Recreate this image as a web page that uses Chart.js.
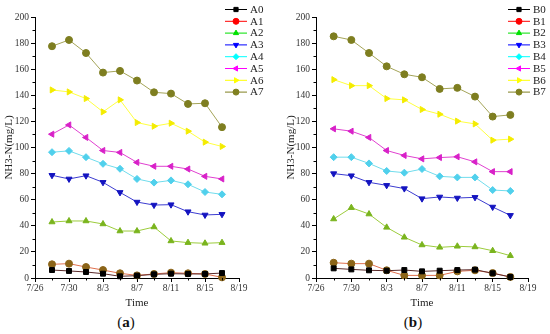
<!DOCTYPE html>
<html>
<head>
<meta charset="utf-8">
<script src="https://cdn.jsdelivr.net/npm/chart.js@4/dist/chart.umd.min.js"></script>
<style>
body{margin:0;background:#fff;width:550px;height:334px;position:relative;overflow:hidden;font-family:"Liberation Serif",serif}
.panel{position:absolute;top:0;width:275px;height:310px}
.cap{position:absolute;top:313px;font-size:15px;color:#111;transform:translateX(-50%);line-height:18px}
</style>
</head>
<body>
<div class="panel" style="left:0"><canvas id="chartA"></canvas></div>
<div class="panel" style="left:275px"><canvas id="chartB"></canvas></div>
<div class="cap" style="left:126px">(<b>a</b>)</div>
<div class="cap" style="left:413px">(<b>b</b>)</div>
<script>
// sampling dates and axis labels
const dates = ['7/28','7/30','8/1','8/3','8/5','8/7','8/9','8/11','8/13','8/15','8/17'];
const xTickLabels = ['7/26','7/30','8/3','8/7','8/11','8/15','8/19'];
const yTicks = [0,20,40,60,80,100,120,140,160,180,200];

// panel (a)
const A0 = [6.1,5.4,4.6,3.3,1.3,1.8,2.8,3.3,3.1,3.1,3.8];
const A1 = [10.5,11.0,8.4,6.1,3.6,2.0,3.1,4.1,3.6,3.1,0.5];
const A2 = [42.9,43.7,43.7,41.4,36.0,36.0,39.1,28.4,27.1,26.6,27.1];
const A3 = [78.7,75.9,78.4,73.3,65.6,58.2,55.9,56.2,50.8,48.3,48.8];
const A4 = [96.4,97.4,92.6,87.5,83.7,75.9,73.1,74.8,71.8,65.9,64.1];
const A5 = [110.2,117.3,107.7,97.7,96.2,88.6,85.6,85.6,83.5,77.9,75.9];
const A6 = [144.1,142.6,137.5,127.3,136.5,119.1,116.3,118.6,112.5,104.1,100.8];
const A7 = [177.6,182.4,172.4,157.4,158.7,151.3,142.3,141.3,133.4,133.9,115.6];

// panel (b)
const B0 = [7.4,6.6,5.9,5.6,6.1,5.1,5.6,6.1,6.4,3.6,0.8];
const B1 = [11.7,11.0,11.0,5.9,2.0,2.0,2.0,5.1,5.9,3.8,0.8];
const B2 = [45.2,53.9,49.0,38.8,31.2,25.3,23.5,24.3,23.8,20.9,17.1];
const B3 = [80.0,78.4,73.3,71.0,68.5,60.8,62.1,61.3,61.8,54.4,48.0];
const B4 = [92.6,92.6,87.8,82.0,80.7,83.5,77.9,77.1,77.1,67.4,66.7];
const B5 = [114.3,112.5,107.7,97.7,93.9,91.3,92.3,92.9,89.0,81.5,81.5];
const B6 = [152.0,147.4,147.4,137.5,136.5,129.1,125.5,120.2,118.1,105.6,106.4];
const B7 = [185.2,182.4,172.4,162.2,156.1,153.8,144.9,145.7,139.0,123.7,125.0];

const lineColors  = ['#5a2a2a','#e0704e','#9ccc3c','#3c3cd0','#70dcec','#e040d0','#ffff40','#a4a458'];
const pointColors = ['#000000','#8b6418','#7ab41e','#1414c0','#50d0ec','#d820c8','#f4ec00','#7e7e20'];
const legendColors = ['#000000','#ff0000','#00e000','#0000ff','#00ffff','#ff00ff','#ffff00','#808020'];
const markers = [
  {style:'rect',rot:0},{style:'circle',rot:0},{style:'triangle',rot:0},{style:'triangle',rot:180},
  {style:'rectRot',rot:0},{style:'triangle',rot:-90},{style:'triangle',rot:90},{style:'circle',rot:0}
];

const start = new Date(2020,6,26);
function dayOf(s){
  const [m,d] = s.split('/').map(Number);
  return Math.round((new Date(2020,m-1,d)-start)/86400000);
}
const xs = dates.map(dayOf);
const xTickVals = xTickLabels.map(dayOf);

const serif = '"Liberation Serif", "Times New Roman", serif';

const sideLegend = {
  id:'sideLegend',
  afterDraw(chart, args, o){
    const ctx = chart.ctx;
    ctx.save();
    chart.data.datasets.forEach((ds,i)=>{
      const y = o.top + i*o.gap;
      ctx.strokeStyle = legendColors[i];
      ctx.lineWidth = 1;
      ctx.beginPath(); ctx.moveTo(o.x0,y+0.5); ctx.lineTo(o.x1,y+0.5); ctx.stroke();
      ctx.fillStyle = legendColors[i];
      Chart.helpers.drawPoint(ctx,{pointStyle:markers[i].style,rotation:markers[i].rot,radius:3,borderWidth:1},(o.x0+o.x1)/2,y+0.5);
      ctx.fillStyle = '#222';
      ctx.font = '11px ' + serif;
      ctx.textBaseline = 'middle';
      ctx.textAlign = 'left';
      ctx.fillText(ds.label, o.x1+3, y+1);
    });
    ctx.restore();
  }
};

// short minor ticks between labelled ones
const minorTicks = {
  id:'minorTicks',
  afterDraw(chart){
    const {ctx, scales:{x,y}} = chart;
    ctx.save();
    ctx.strokeStyle = '#000'; ctx.lineWidth = 1;
    ctx.beginPath();
    for(let i=0;i<xTickVals.length-1;i++){
      const px = Math.round(x.getPixelForValue((xTickVals[i]+xTickVals[i+1])/2))+0.5;
      ctx.moveTo(px,y.bottom); ctx.lineTo(px,y.bottom+2.5);
    }
    for(let i=0;i<yTicks.length-1;i++){
      const py = Math.round(y.getPixelForValue((yTicks[i]+yTicks[i+1])/2))+0.5;
      ctx.moveTo(x.left,py); ctx.lineTo(x.left-2.5,py);
    }
    ctx.stroke();
    ctx.restore();
  }
};

function makeChart(id, names, series, cfg){
  const datasets = series.map((vals,i)=>({
    label: names[i],
    data: vals.map((v,j)=>({x:xs[j], y:v})),
    borderColor: lineColors[i],
    backgroundColor: pointColors[i],
    pointBackgroundColor: pointColors[i],
    pointBorderColor: pointColors[i],
    borderWidth: 1,
    pointStyle: markers[i].style,
    rotation: markers[i].rot,
    pointRadius: 3.5,
    pointBorderWidth: 1,
    tension: 0,
    clip: false
  }));
  return new Chart(document.getElementById(id),{
    type:'line',
    data:{datasets},
    plugins:[sideLegend, minorTicks],
    options:{
      responsive:false,
      animation:false,
      devicePixelRatio:1,
      layout:{padding:{top:17,right:cfg.padRight,bottom:0,left:0}},
      plugins:{
        legend:{display:false},
        tooltip:{enabled:false},
        sideLegend:cfg.legend
      },
      scales:{
        x:{
          type:'linear', min:0, max:24,
          afterBuildTicks: s => { s.ticks = xTickVals.map(v=>({value:v})); },
          afterFit: s => { s.height = 32; },
          ticks:{
            callback:(v)=>xTickLabels[xTickVals.indexOf(v)],
            font:{family:serif,size:9.5}, color:'#333', padding:1, maxRotation:0, autoSkip:false
          },
          grid:{drawOnChartArea:false, drawTicks:true, tickLength:4, tickColor:'#000'},
          border:{color:'#000', width:1},
          title:{display:true, text:'Time', font:{family:serif,size:11}, color:'#222', padding:{top:0,bottom:0}}
        },
        y:{
          min:0, max:200,
          afterBuildTicks: s => { s.ticks = yTicks.map(v=>({value:v})); },
          afterFit: s => { s.width = cfg.yWidth; },
          ticks:{font:{family:serif,size:9.5}, color:'#333', padding:2, autoSkip:false},
          grid:{drawOnChartArea:false, drawTicks:true, tickLength:4, tickColor:'#000'},
          border:{color:'#000', width:1},
          title:{display:true, text:'NH3-N(mg/L)', font:{family:serif,size:11}, color:'#222', padding:{top:cfg.titlePad,bottom:0}}
        }
      }
    }
  });
}

const cA = document.getElementById('chartA'); cA.width = 275; cA.height = 310;
const cB = document.getElementById('chartB'); cB.width = 275; cB.height = 310;

makeChart('chartA', ['A0','A1','A2','A3','A4','A5','A6','A7'], [A0,A1,A2,A3,A4,A5,A6,A7],
  {padRight:36, yWidth:35, titlePad:3, legend:{x0:225, x1:247, top:9, gap:11.8}});
makeChart('chartB', ['B0','B1','B2','B3','B4','B5','B6','B7'], [B0,B1,B2,B3,B4,B5,B6,B7],
  {padRight:22, yWidth:41, titlePad:10, legend:{x0:233, x1:255, top:9, gap:11.8}});
</script>
</body>
</html>
